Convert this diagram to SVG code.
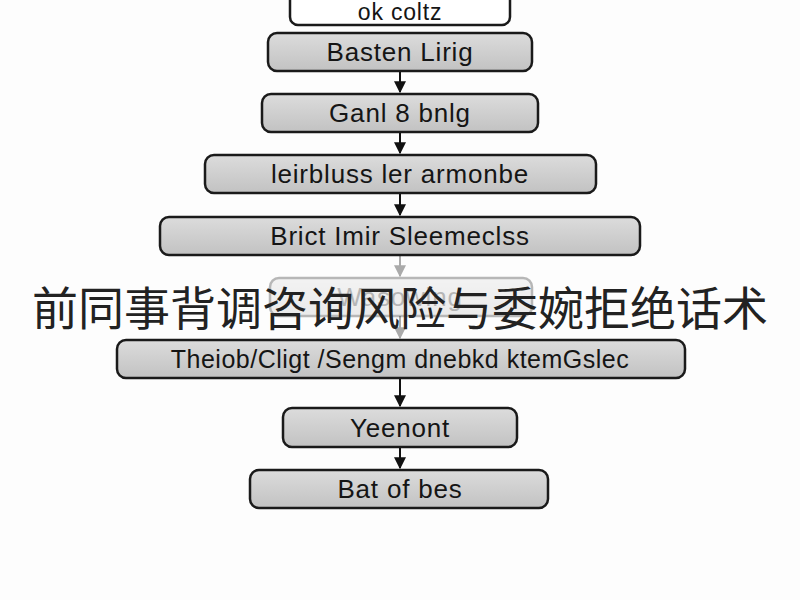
<svg xmlns="http://www.w3.org/2000/svg" width="800" height="600" viewBox="0 0 800 600">
<defs>
<linearGradient id="g" x1="0" y1="0" x2="0" y2="1">
<stop offset="0" stop-color="#dcdcdc"/>
<stop offset="1" stop-color="#c2c2c2"/>
</linearGradient>
<marker id="ah" viewBox="0 0 10 10" refX="9" refY="5" markerWidth="6" markerHeight="6" orient="auto">
<path d="M0,0 L10,5 L0,10 z" fill="#111"/>
</marker>
<marker id="ahf" viewBox="0 0 10 10" refX="9" refY="5" markerWidth="6" markerHeight="6" orient="auto">
<path d="M0,0 L10,5 L0,10 z" fill="#aaa"/>
</marker>
</defs>
<style>
.box{fill:url(#g);stroke:#1a1a1a;stroke-width:2.5}
.lbl{font-family:"Liberation Sans",Arial,sans-serif;font-size:26px;letter-spacing:0.8px;fill:#151515;text-anchor:middle;dominant-baseline:central}
.c{stroke:#111;stroke-width:2;fill:none;marker-end:url(#ah)}
.cf{stroke:#aaa;stroke-width:2;fill:none;marker-end:url(#ahf)}
.title{font-family:"Noto Sans CJK SC","Noto Sans",sans-serif;font-size:46px;fill:#222;text-anchor:middle}
</style>
<rect width="800" height="600" fill="#fdfdfd"/>
<g id="connectors">
<line class="c" x1="400" y1="71" x2="400" y2="92"/>
<line class="c" x1="400" y1="132" x2="400" y2="153"/>
<line class="c" x1="400" y1="193" x2="400" y2="215"/>
<line class="cf" x1="400" y1="255" x2="400" y2="276"/>
<line class="cf" x1="400" y1="316" x2="400" y2="338"/>
<line class="c" x1="400" y1="378" x2="400" y2="406"/>
<line class="c" x1="400" y1="447" x2="400" y2="468"/>
</g>
<g id="n0">
<rect x="290" y="-8" width="220" height="33" rx="8" fill="#fff" stroke="#1a1a1a" stroke-width="2.5"/>
<text class="lbl" x="400" y="12" style="font-size:23px">ok coltz</text>
</g>
<g id="n1">
<rect class="box" x="268" y="33" width="264" height="38" rx="9"/>
<text class="lbl" x="400" y="52">Basten Lirig</text>
</g>
<g id="n2">
<rect class="box" x="262" y="94" width="276" height="38" rx="9"/>
<text class="lbl" x="400" y="113">Ganl 8 bnlg</text>
</g>
<g id="n3">
<rect class="box" x="205" y="155" width="391" height="38" rx="9"/>
<text class="lbl" x="400" y="174">leirbluss ler armonbe</text>
</g>
<g id="n4">
<rect class="box" x="160" y="217" width="480" height="38" rx="9"/>
<text class="lbl" x="400" y="236">Brict Imir Sleemeclss</text>
</g>
<g id="n5" opacity="0.3">
<rect class="box" x="270" y="278" width="262" height="38" rx="9"/>
<text class="lbl" x="400" y="297">Wasowing</text>
</g>
<g id="n6">
<rect class="box" x="117" y="340" width="568" height="38" rx="9"/>
<text class="lbl" x="400" y="359" style="font-size:25px;letter-spacing:0.5px">Theiob/Cligt /Sengm dnebkd ktemGslec</text>
</g>
<g id="n7">
<rect class="box" x="283" y="408" width="234" height="39" rx="9"/>
<text class="lbl" x="400" y="428">Yeenont</text>
</g>
<g id="n8">
<rect class="box" x="250" y="470" width="298" height="38" rx="9"/>
<text class="lbl" x="400" y="489">Bat of bes</text>
</g>
<text class="title" x="400" y="325">前同事背调咨询风险与委婉拒绝话术</text>
</svg>
